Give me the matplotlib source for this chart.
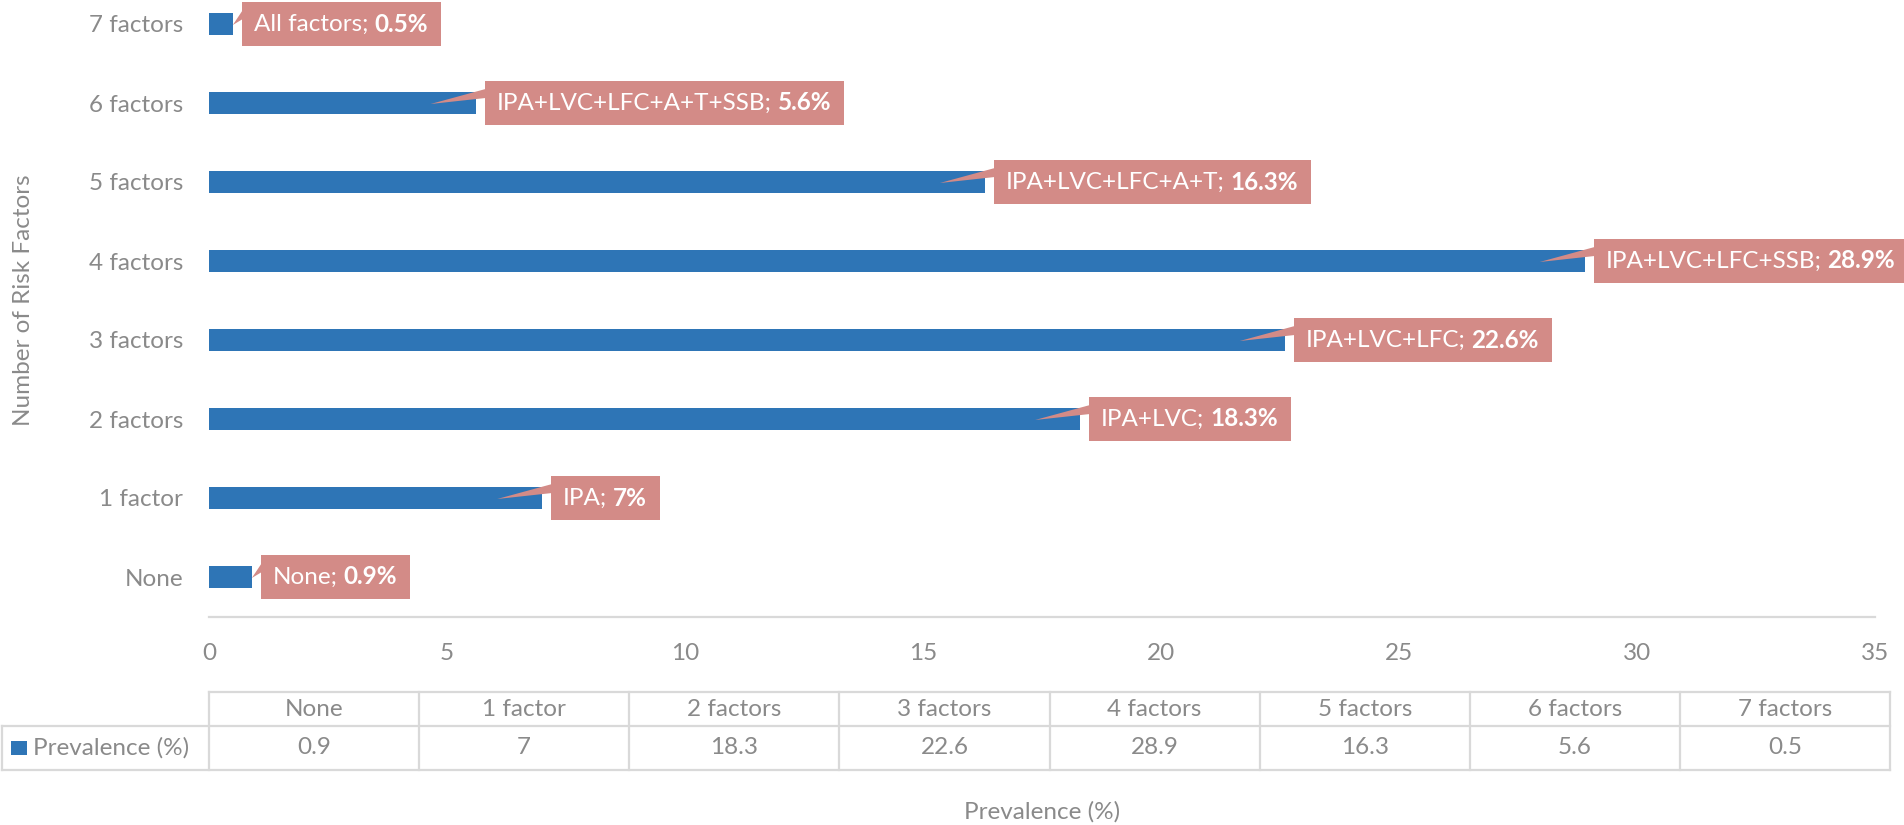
import matplotlib
matplotlib.use("Agg")
import matplotlib.pyplot as plt
from matplotlib.patches import Rectangle, Polygon
from matplotlib.lines import Line2D
from matplotlib.transforms import IdentityTransform

plt.rcParams['font.family'] = ['Lato', 'DejaVu Sans']

categories = ['None', '1 factor', '2 factors', '3 factors', '4 factors', '5 factors', '6 factors', '7 factors']
prevalence = [0.9, 7, 18.3, 22.6, 28.9, 16.3, 5.6, 0.5]
combos = ['None', 'IPA', 'IPA+LVC', 'IPA+LVC+LFC', 'IPA+LVC+LFC+SSB',
          'IPA+LVC+LFC+A+T', 'IPA+LVC+LFC+A+T+SSB', 'All factors']
series_name = 'Prevalence (%)'
x_ticks = [0, 5, 10, 15, 20, 25, 30, 35]

W, H = 1904, 825
bar_color = '#2E75B6'
box_color = '#D38B87'
grey = '#8A8A8A'
line_grey = '#D9D9D9'
fs = 17.5

fig = plt.figure(figsize=(W / 100, H / 100), dpi=100)
# plot area in pixels: x 209..1875, y (from top) -15.5..616.5
ax = fig.add_axes([209 / W, 1 - 616.5 / H, (1875 - 209) / W, (616.5 + 15.5) / H])

ax.barh(range(len(categories)), prevalence, height=0.29, color=bar_color)
ax.set_xlim(0, 35)
ax.set_ylim(-0.5, 7.5)
ax.set_xticks(x_ticks)
ax.set_yticks(range(len(categories)))
ax.set_yticklabels(categories)
for s in ['top', 'right', 'left']:
    ax.spines[s].set_visible(False)
ax.spines['bottom'].set_color(line_grey)
ax.spines['bottom'].set_linewidth(1.6)
ax.tick_params(axis='x', length=0, pad=19, labelsize=fs, labelcolor=grey)
ax.tick_params(axis='y', length=0, pad=18.5, labelsize=fs, labelcolor=grey)

fig.text(24 / W, 1 - 300 / H, 'Number of Risk Factors', rotation=90, ha='center', va='center',
         fontsize=fs, color=grey)
fig.text(1042 / W, 1 - 812 / H, series_name, ha='center', va='center', fontsize=fs, color=grey)

# data callouts
fig.canvas.draw()
r = fig.canvas.get_renderer()
ident = IdentityTransform()
x_start = ax.transData.transform((0, 0))[0]
for i, (v, combo) in enumerate(zip(prevalence, combos)):
    xe, yc = ax.transData.transform((v, i))
    left = xe + 9
    t1 = fig.text(left + 12, yc, combo + ';', transform=ident, ha='left', va='center',
                  fontsize=fs, color='white', zorder=5)
    w1 = t1.get_window_extent(r).width + 6
    t2 = fig.text(left + 12 + w1, yc, f'{v:g}%', transform=ident, ha='left', va='center',
                  fontsize=fs, color='white', fontweight='bold', zorder=5)
    w2 = t2.get_window_extent(r).width
    box_w = 12 + w1 + w2 + 13
    fig.patches.append(Rectangle((left, yc - 22), box_w, 44, transform=ident,
                                 facecolor=box_color, edgecolor='none', zorder=4))
    tip = left - 54 if xe - x_start > 60 else xe
    fig.patches.append(Polygon([(tip, yc - 1), (left + 1, yc + 14), (left + 1, yc + 5)],
                               closed=True, transform=ident, facecolor=box_color,
                               edgecolor='none', zorder=4))

# data table under the axis
def fx(px):
    return px / W

def fy(py):
    return 1 - py / H

t_left, t_right = 209, 1890
col_w = (t_right - t_left) / len(categories)
y_top, y_mid, y_bot = 692, 726, 770
lw = 1.6
fig.lines.append(Line2D([fx(t_left), fx(t_right)], [fy(y_top)] * 2, transform=fig.transFigure,
                        color=line_grey, lw=lw))
fig.lines.append(Line2D([fx(2), fx(t_right)], [fy(y_mid)] * 2, transform=fig.transFigure,
                        color=line_grey, lw=lw))
fig.lines.append(Line2D([fx(2), fx(t_right)], [fy(y_bot)] * 2, transform=fig.transFigure,
                        color=line_grey, lw=lw))
fig.lines.append(Line2D([fx(2), fx(2)], [fy(y_mid), fy(y_bot)], transform=fig.transFigure,
                        color=line_grey, lw=lw))
for k in range(len(categories) + 1):
    xk = t_left + k * col_w
    fig.lines.append(Line2D([fx(xk), fx(xk)], [fy(y_top), fy(y_bot)], transform=fig.transFigure,
                            color=line_grey, lw=lw))
for k, (cat, v) in enumerate(zip(categories, prevalence)):
    xc = t_left + (k + 0.5) * col_w
    fig.text(fx(xc), fy(709), cat, ha='center', va='center', fontsize=fs, color=grey)
    fig.text(fx(xc), fy(748), f'{v:g}', ha='center', va='center', fontsize=fs, color=grey)

fig.patches.append(Rectangle((fx(11), fy(755)), 16 / W, 14 / H, transform=fig.transFigure,
                             facecolor=bar_color, edgecolor='none'))
fig.text(fx(33), fy(748), series_name, ha='left', va='center', fontsize=fs, color=grey)

plt.savefig('out.png', dpi=100)
